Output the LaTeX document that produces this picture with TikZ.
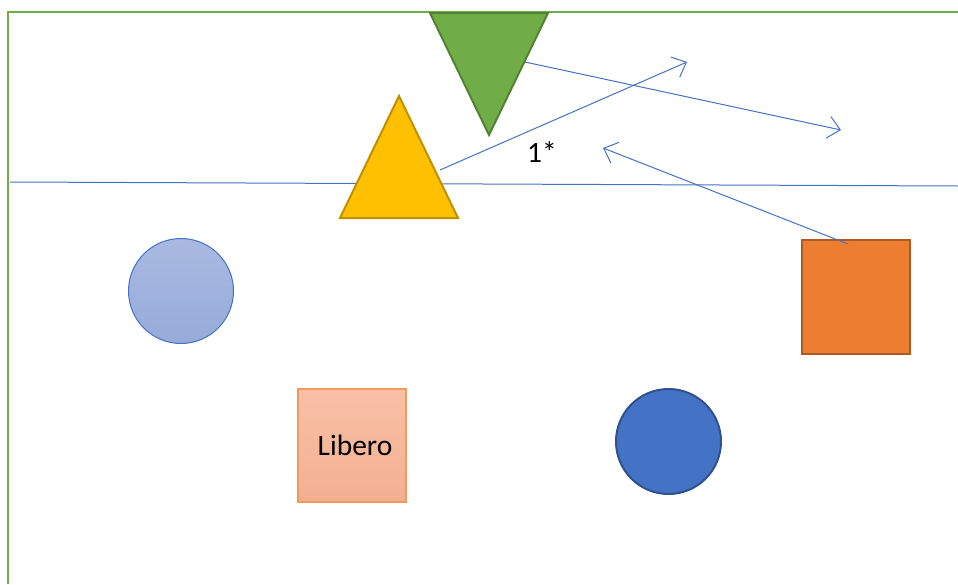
\documentclass[tikz,border=0pt]{standalone}
\usepackage{fontspec}
\setmainfont{Carlito}
\usetikzlibrary{
  arrows.meta,
  shapes.geometric
}
\definecolor{fdGreen}{HTML}{70AD47}
\definecolor{fdGreenDk}{HTML}{548235}
\definecolor{fdBlue}{HTML}{4472C4}
\definecolor{fdBlueDk}{HTML}{2F528F}
\definecolor{fdYellow}{HTML}{FFC000}
\definecolor{fdYellowDk}{HTML}{BF9000}
\definecolor{fdOrange}{HTML}{ED7D31}
\definecolor{fdOrangeDk}{HTML}{AE5A21}
\definecolor{fdPeachTop}{HTML}{F8C0A6}
\definecolor{fdPeachBot}{HTML}{F4AF90}
\definecolor{fdPeachLn}{HTML}{F19A5E}
\definecolor{fdSkyTop}{HTML}{A9B9E1}
\definecolor{fdSkyBot}{HTML}{97ABD9}

\begin{document}
\begin{tikzpicture}[x=1pt, y=-1pt, font=\fontsize{29.5}{33}\selectfont,
  move/.style={draw=fdBlue, line width=1pt, -{Straight Barb[length=12pt, width=22pt]}},
  player/.style={circle, minimum size=105pt, inner sep=0pt},
  tri/.style={line width=2pt, line join=miter}]
  \useasboundingbox (0,0) rectangle (958,584);
  % court
  \draw[fdGreen, line width=2.5pt] (8,584) -- (8,12) -- (958,12);
  \coordinate (netL) at (10,182);
  \coordinate (netR) at (958,186);
  \draw[fdBlue, line width=1pt] (netL) -- (netR);
  % players
  \node[player, draw=fdBlue, line width=1pt, top color=fdSkyTop, bottom color=fdSkyBot] (back) at (181,291) {};
  \node[player, draw=fdBlueDk, line width=2pt, fill=fdBlue] (middle) at (668.5,441.5) {};
  \node[draw=fdPeachLn, line width=1.2pt, top color=fdPeachTop, bottom color=fdPeachBot,
        minimum width=108pt, minimum height=113pt, inner sep=0pt] (libero) at (352,445.5) {\hspace*{6pt}Libero};
  \node[draw=fdOrangeDk, line width=2pt, fill=fdOrange,
        minimum width=108pt, minimum height=114pt, inner sep=0pt] (setter) at (855.5,296.5) {};
  \draw[tri, fill=fdGreen, draw=fdGreenDk] (430,13) -- (548,13) -- (489,135) -- cycle;
  \draw[tri, fill=fdYellow, draw=fdYellowDk] (399,96) -- (458,218) -- (340,218) -- cycle;
  % moves
  \coordinate (yellowSide) at (440,170);
  \coordinate (greenSide) at (525,62);
  \coordinate (setterTop) at (848,244);
  \coordinate (runA) at (687,62);
  \coordinate (runB) at (841,130);
  \coordinate (runC) at (603,148);
  \draw[move] (yellowSide) -- (runA);
  \draw[move] (greenSide) -- (runB);
  \draw[move] (setterTop) -- (runC);
  \node (mark) at (542,152) {1*};
\end{tikzpicture}
\end{document}
